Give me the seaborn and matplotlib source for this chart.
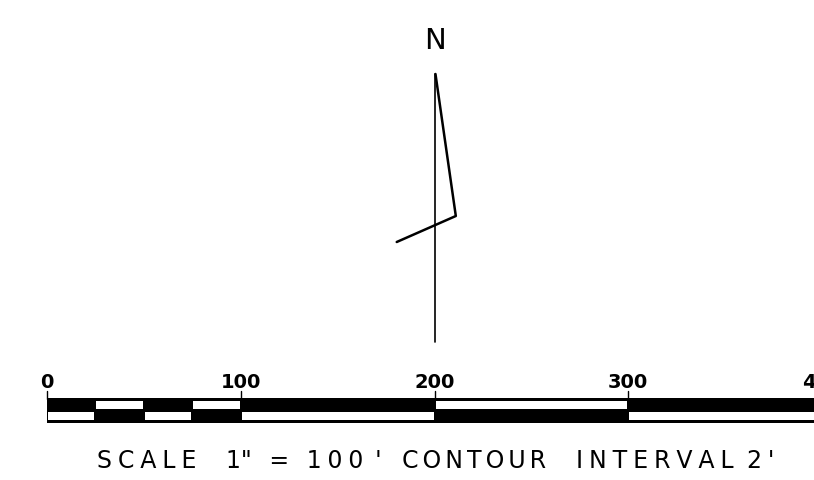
import matplotlib
matplotlib.use("Agg")
import matplotlib.pyplot as plt
import seaborn as sns

# ---- data ----
seg_start = [0, 25, 50, 75, 100, 200, 300]
seg_end = [25, 50, 75, 100, 200, 300, 400]
upper_white = [False, True, False, True, False, True, False]
lower_white = [True, False, True, False, True, False, True]
tick_values = [0, 100, 200, 300, 400]
tick_labels = ["0", "100", "200", "300", "400"]
caption_words = ["SCALE", "1\"=100'", "CONTOUR", "INTERVAL", "2'"]
caption_px = [146.5, 304, 474.5, 655, 761]
caption_gap = ["\u2005", "\u2005", "\u2006", "\u2005", "\u2005"]
north_label = "N"
# north arrow path (feet units along x, pixel rows along y)
arrow_x = [200.5, 200.5]
arrow_y = [75, 343]
barb_x = [200.5, 211.0, 180.5]
barb_y = [75, 217, 243]

sns.set_theme(style="white")
plt.rcParams['font.family'] = ['DejaVu Sans']

fig = plt.figure(figsize=(8.14, 4.81), dpi=100)
ax = fig.add_axes([0, 0, 1, 1])
px = 400 / 775.0
ax.set_xlim(-47 * px, (814 - 47) * px)
ax.set_ylim(481, 0)
ax.axis("off")

# north arrow
sns.lineplot(x=arrow_x, y=arrow_y, sort=False, color="black", lw=1.2, ax=ax, estimator=None)
sns.lineplot(x=barb_x, y=barb_y, sort=False, color="black", lw=1.8, ax=ax, estimator=None)
ax.text(200.0, 41, north_label, ha="center", va="center", fontsize=21, color="black")

# scale bar
bar_top, bar_bot = 398.5, 423.5
ax.bar(seg_start[0], bar_bot - bar_top, width=seg_end[-1] - seg_start[0], bottom=bar_top,
       align="edge", color="black", edgecolor="none")
inset = 1.0 * px
for s, e, uw, lw_ in zip(seg_start, seg_end, upper_white, lower_white):
    if uw:
        ax.bar(s + inset, 7.5, width=(e - s) - 2 * inset, bottom=402, align="edge",
               color="white", edgecolor="none")
    if lw_:
        ax.bar(s + inset, 8, width=(e - s) - 2 * inset, bottom=413, align="edge",
               color="white", edgecolor="none")

for v, lab in zip(tick_values, tick_labels):
    ax.plot([v, v], [392, 400], color="black", lw=1.0)
    ax.text(v, 383, lab, ha="center", va="center", fontsize=14, fontweight="bold", color="black")

for w, cx, gap in zip(caption_words, caption_px, caption_gap):
    if w.startswith("1"):
        s = "1\"" + gap * 3 + "=" + gap * 3 + gap.join("100") + gap * 2 + "'"
    else:
        s = gap.join(w)
    ax.text((cx - 47) * px, 461, s, ha="center", va="center", fontsize=17, color="black")

fig.savefig("out.png", dpi=100, facecolor="white")
